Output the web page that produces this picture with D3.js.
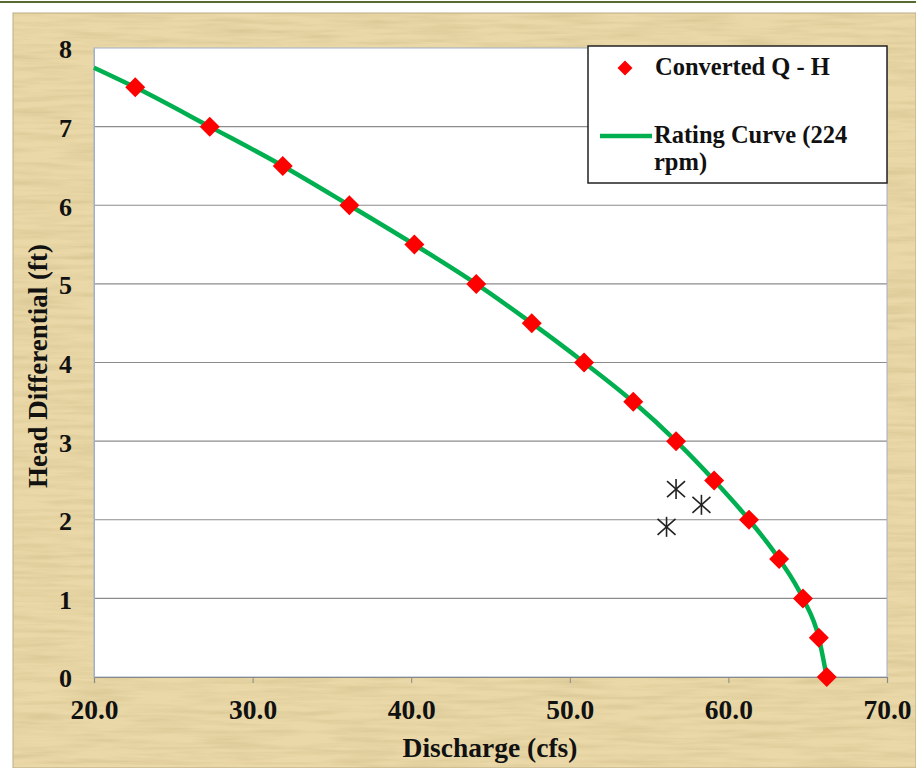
<!DOCTYPE html>
<html><head><meta charset="utf-8">
<script src="https://cdn.jsdelivr.net/npm/d3@7"></script>
<style>body{margin:0;background:#fff}svg{display:block}</style>
</head><body>
<svg id="c" width="916" height="768"></svg>
<script>
const discharge = [22.6, 27.3, 31.9, 36.1, 40.2, 44.1, 47.6, 50.9, 54.0, 56.7, 59.1, 61.3, 63.2, 64.7, 65.7, 66.2];
const head      = [7.5, 7.0, 6.5, 6.0, 5.5, 5.0, 4.5, 4.0, 3.5, 3.0, 2.5, 2.0, 1.5, 1.0, 0.5, 0.0];
const curveQ = [20.0, 22.6, 27.3, 31.9, 36.1, 40.2, 44.1, 47.6, 50.9, 54.0, 56.7, 59.1, 61.3, 63.2, 64.7, 65.7, 66.2];
const curveH = [7.75, 7.5, 7.0, 6.5, 6.0, 5.5, 5.0, 4.5, 4.0, 3.5, 3.0, 2.5, 2.0, 1.5, 1.0, 0.5, 0.0];
const measQ = [56.7, 58.3, 56.1];
const measH = [2.39, 2.19, 1.91];
const xTicks = [20, 30, 40, 50, 60, 70];
const yTicks = [0, 1, 2, 3, 4, 5, 6, 7, 8];

const FONT = "Liberation Serif, Times New Roman, serif";
const svg = d3.select("#c");
const defs = svg.append("defs");
const f = defs.append("filter").attr("id","pap").attr("x",0).attr("y",0).attr("width","100%").attr("height","100%");
f.append("feTurbulence").attr("type","fractalNoise").attr("baseFrequency","0.015 0.2").attr("numOctaves",3).attr("seed",4).attr("result","n");
f.append("feColorMatrix").attr("in","n").attr("type","matrix")
 .attr("values","0 0 0 0 0.62  0 0 0 0 0.50  0 0 0 0 0.25  0 0 0 -1.8 1.15");

// frame
svg.append("line").attr("x1",0).attr("x2",916).attr("y1",2).attr("y2",2).attr("stroke","#556b2f").attr("stroke-width",2);
svg.append("rect").attr("x",13).attr("y",13).attr("width",903).attr("height",755).attr("fill","#ead8a8").attr("stroke","#b9ab86").attr("stroke-width",1);
svg.append("rect").attr("x",13).attr("y",13).attr("width",903).attr("height",755).attr("filter","url(#pap)").attr("opacity",0.55);

const L = 94, R = 887, T = 48, B = 677;
const x = d3.scaleLinear().domain([20,70]).range([L,R]);
const y = d3.scaleLinear().domain([0,8]).range([B,T]);

svg.append("rect").attr("x",L).attr("y",T).attr("width",R-L).attr("height",B-T).attr("fill","#fff");
// gridlines
svg.append("g").selectAll("line").data(yTicks.filter(d=>d>0 && d<8)).join("line")
  .attr("x1",L).attr("x2",R).attr("y1",d=>y(d)).attr("y2",d=>y(d)).attr("stroke","#8c8c8c").attr("stroke-width",1.2);
svg.append("rect").attr("x",L).attr("y",T).attr("width",R-L).attr("height",B-T).attr("fill","none").attr("stroke","#9fb0c8").attr("stroke-width",1);

// x axis
const xa = svg.append("g").attr("transform",`translate(0,${B})`)
  .call(d3.axisBottom(x).tickValues(xTicks).tickSize(6).tickFormat(d3.format(".1f")));
xa.select(".domain").attr("stroke","#888").attr("stroke-width",1.2);
xa.selectAll(".tick line").attr("stroke","#888");
xa.selectAll("text").attr("dy",0).attr("y",42).attr("font-family",FONT).attr("font-weight","bold").attr("font-size",27.5).attr("fill","#111");

// y axis
const ya = svg.append("g").attr("transform",`translate(${L},0)`)
  .call(d3.axisLeft(y).tickValues(yTicks).tickSize(0).tickPadding(22));
ya.select(".domain").attr("stroke","#9fb0c8");
ya.selectAll("text").attr("font-family",FONT).attr("font-weight","bold").attr("font-size",26).attr("fill","#111").attr("dy","0.38em");

// titles
svg.append("text").attr("x",490).attr("y",757).attr("text-anchor","middle")
  .attr("font-family",FONT).attr("font-weight","bold").attr("font-size",27.5).attr("fill","#111").text("Discharge (cfs)");
svg.append("text").attr("transform","translate(47,366) rotate(-90)").attr("text-anchor","middle")
  .attr("font-family",FONT).attr("font-weight","bold").attr("font-size",27).attr("fill","#111").text("Head Differential (ft)");

// curve
const line = d3.line().x((d,i)=>x(curveQ[i])).y((d,i)=>y(curveH[i])).curve(d3.curveMonotoneX);
svg.append("path").datum(curveQ).attr("d",line).attr("fill","none").attr("stroke","#00b050").attr("stroke-width",4.5);

// diamonds
const dpath = s => `M0,${-s}L${s},0L0,${s}L${-s},0Z`;
svg.append("g").selectAll("path").data(discharge).join("path")
  .attr("transform",(d,i)=>`translate(${x(d)},${y(head[i])})`).attr("d",dpath(10)).attr("fill","#ff0000");

// asterisks
const ast = svg.append("g").attr("stroke","#222").attr("stroke-width",1.6);
measQ.forEach((q,i)=>{
  const g = ast.append("g").attr("transform",`translate(${x(q)},${y(measH[i])})`);
  g.append("line").attr("x1",0).attr("x2",0).attr("y1",-10).attr("y2",10);
  g.append("line").attr("x1",-9).attr("x2",9).attr("y1",-8).attr("y2",8);
  g.append("line").attr("x1",-9).attr("x2",9).attr("y1",8).attr("y2",-8);
});

// legend
const lg = svg.append("g");
lg.append("rect").attr("x",588).attr("y",46).attr("width",299).attr("height",137).attr("fill","#fff").attr("stroke","#222").attr("stroke-width",1.5);
lg.append("path").attr("transform","translate(625,68)").attr("d",dpath(7.5)).attr("fill","#ff0000");
lg.append("text").attr("x",655).attr("y",75).attr("font-family",FONT).attr("font-weight","bold").attr("font-size",24.5).attr("fill","#111").text("Converted Q - H");
lg.append("line").attr("x1",600).attr("x2",652).attr("y1",136).attr("y2",136).attr("stroke","#00b050").attr("stroke-width",4.5);
lg.append("text").attr("x",654).attr("y",143).attr("font-family",FONT).attr("font-weight","bold").attr("font-size",24.5).attr("fill","#111").text("Rating Curve (224");
lg.append("text").attr("x",654).attr("y",170).attr("font-family",FONT).attr("font-weight","bold").attr("font-size",24.5).attr("fill","#111").text("rpm)");
</script>
</body></html>
